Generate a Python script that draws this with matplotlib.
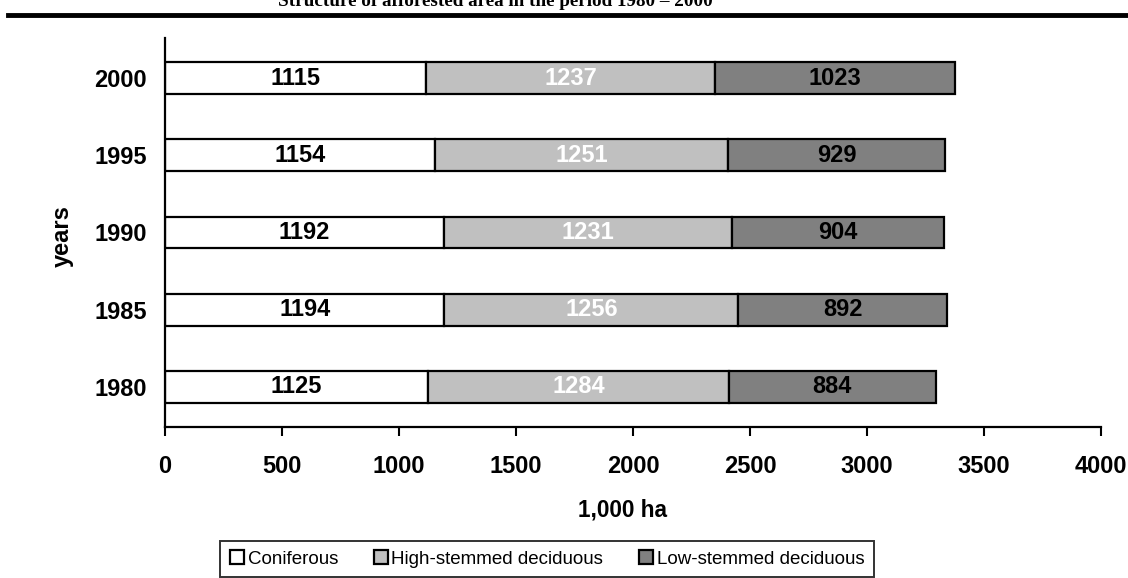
import matplotlib
matplotlib.use("Agg")
import matplotlib.pyplot as plt
from matplotlib.patches import Patch
from matplotlib.lines import Line2D

years = ["1980", "1985", "1990", "1995", "2000"]
coniferous = [1125, 1194, 1192, 1154, 1115]
high_stemmed = [1284, 1256, 1231, 1251, 1237]
low_stemmed = [884, 892, 904, 929, 1023]
series_names = ["Coniferous", "High-stemmed deciduous", "Low-stemmed deciduous"]
colors = ["#ffffff", "#c0c0c0", "#808080"]
label_colors = ["black", "white", "black"]
xticks = [0, 500, 1000, 1500, 2000, 2500, 3000, 3500, 4000]

plt.rcParams['font.family'] = ['Liberation Sans', 'DejaVu Sans']

fig = plt.figure(figsize=(11.28, 5.78), dpi=100)
ax = fig.add_axes([165/1128, 1-427/578, (1101-165)/1128, (427-38)/578])

ypos = list(range(len(years)))
left = [0]*len(years)
for vals, col, lc in zip([coniferous, high_stemmed, low_stemmed], colors, label_colors):
    bars = ax.barh(ypos, vals, left=left, height=0.41, color=col,
                   edgecolor='black', linewidth=1.6)
    for b, v in zip(bars, vals):
        ax.text(b.get_x() + b.get_width()/2, b.get_y() + b.get_height()/2, str(v),
                ha='center', va='center', fontsize=17, fontweight='bold', color=lc)
    left = [l + v for l, v in zip(left, vals)]

ax.set_xlim(0, 4000)
ax.set_ylim(-0.52, 4.52)
ax.set_xticks(xticks)
ax.set_xticklabels([str(t) for t in xticks], fontsize=17, fontweight='bold')
ax.set_yticks(ypos)
ax.set_yticklabels(years, fontsize=17, fontweight='bold')
ax.tick_params(axis='y', length=0, pad=13)
ax.tick_params(axis='x', length=6.5, width=1.5, direction='out', pad=14)
for s in ['top', 'right']:
    ax.spines[s].set_visible(False)
for s in ['left', 'bottom']:
    ax.spines[s].set_linewidth(1.6)

ax.set_xlabel("1,000 ha", fontsize=16.3, fontweight='bold')
ax.xaxis.set_label_coords((622-165)/936, (427-499)/389)
ax.set_ylabel("years", fontsize=17, fontweight='bold')
ax.yaxis.set_label_coords((74-165)/936, 0.49)

# title (cut off at top) and rule
fig.text(495/1128, 1-6/578, "Structure of afforested area in the period 1980 \u2013 2000",
         ha='center', va='baseline', fontsize=13.8, fontweight='bold',
         family=['Liberation Serif', 'DejaVu Serif'])
fig.add_artist(Line2D([8/1128, 1.0], [1-15/578, 1-15/578], color='black', linewidth=3.5,
                      transform=fig.transFigure))

handles = [Patch(facecolor=c, edgecolor='black', linewidth=1.6) for c in colors]
leg = fig.legend(handles, series_names, loc='upper center', ncol=3,
                 bbox_to_anchor=(547/1128, 1-541/578), frameon=True, fancybox=False,
                 edgecolor='black', fontsize=13.5, handlelength=0.75, handleheight=0.75,
                 handletextpad=0.2, columnspacing=1.9, borderpad=0.5, borderaxespad=0)
leg.get_frame().set_linewidth(1.4)

fig.savefig("out.png", dpi=100)
